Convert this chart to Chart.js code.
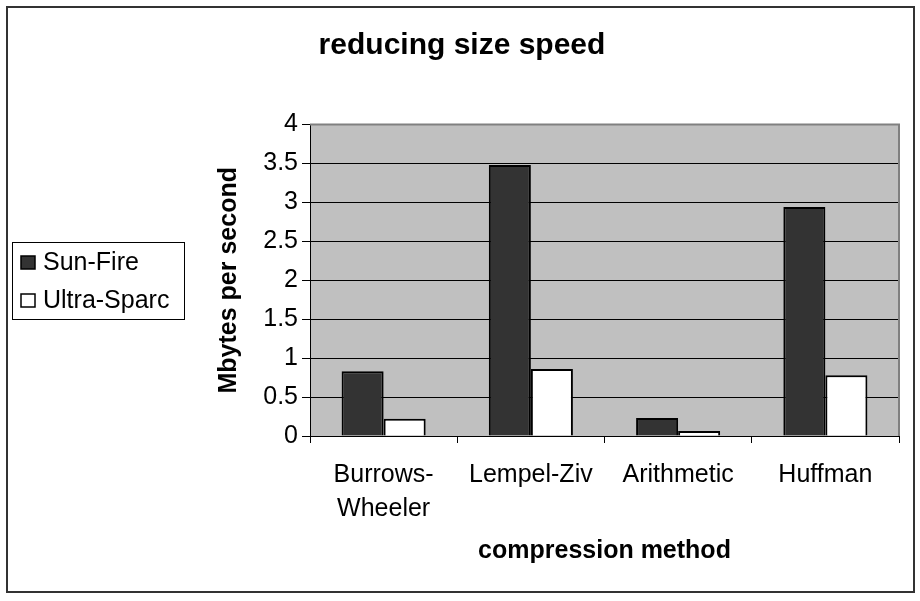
<!DOCTYPE html>
<html>
<head>
<meta charset="utf-8">
<script src="https://cdn.jsdelivr.net/npm/chart.js@4.4.0/dist/chart.umd.min.js"></script>
<style>
  html, body { margin: 0; padding: 0; background: #fff; }
  #wrap { width: 920px; height: 601px; }
</style>
</head>
<body>
<div id="wrap"><canvas id="speed" width="920" height="601"></canvas></div>

<script>
var methods = [['Burrows-', 'Wheeler'], 'Lempel-Ziv', 'Arithmetic', 'Huffman'];
var sunFire = [0.83, 3.48, 0.23, 2.94];
var ultraSparc = [0.22, 0.86, 0.065, 0.78];
var yTicks = ['0', '0.5', '1', '1.5', '2', '2.5', '3', '3.5', '4'];

var FONT = "'Liberation Sans', Arial, sans-serif";

// grey plot area, its grey top/right edge and the outer frame
var frame = {
    id: 'frame',
    beforeDraw: function(chart) {
        var ctx = chart.ctx, a = chart.chartArea;
        ctx.save();
        ctx.fillStyle = '#fff';
        ctx.fillRect(0, 0, chart.width, chart.height);
        ctx.fillStyle = '#c0c0c0';
        ctx.fillRect(a.left, a.top, a.right - a.left, a.bottom - a.top);
        ctx.restore();
    },
    afterDraw: function(chart) {
        var ctx = chart.ctx, a = chart.chartArea;
        ctx.save();
        ctx.strokeStyle = '#808080';
        ctx.lineWidth = 2;
        ctx.beginPath();
        ctx.moveTo(a.left, a.top);
        ctx.lineTo(a.right, a.top);
        ctx.lineTo(a.right, a.bottom);
        ctx.stroke();
        ctx.strokeStyle = '#333';
        ctx.lineWidth = 2;
        ctx.strokeRect(7, 7, 907, 585);
        ctx.restore();
    }
};

// boxed legend on the left side
var sideLegend = {
    id: 'sideLegend',
    afterDraw: function(chart) {
        var ctx = chart.ctx;
        var rowsY = [262, 300];
        ctx.save();
        ctx.strokeStyle = '#000';
        ctx.lineWidth = 1;
        ctx.strokeRect(12.5, 242.5, 172, 77);
        ctx.font = '25px ' + FONT;
        ctx.textBaseline = 'middle';
        chart.data.datasets.forEach(function(ds, i) {
            var y = rowsY[i];
            ctx.fillStyle = ds.backgroundColor;
            ctx.fillRect(21, y - 6, 14, 13);
            ctx.strokeStyle = '#000';
            ctx.lineWidth = 1.5;
            ctx.strokeRect(21, y - 6, 14, 13);
            ctx.fillStyle = '#000';
            ctx.fillText(ds.label, 43, y + 1);
        });
        ctx.restore();
    }
};

new Chart(document.getElementById('speed'), {
    type: 'bar',
    data: {
        labels: methods,
        datasets: [{
            label: 'Sun-Fire',
            data: sunFire,
            backgroundColor: '#333333',
            borderColor: '#000',
            borderWidth: 2
        }, {
            label: 'Ultra-Sparc',
            data: ultraSparc,
            backgroundColor: '#ffffff',
            borderColor: '#000',
            borderWidth: 2
        }]
    },
    options: {
        responsive: false,
        animation: false,
        layout: { padding: { left: 25, right: 21, top: 0, bottom: 0 } },
        plugins: {
            legend: { display: false },
            tooltip: { enabled: false },
            title: {
                display: true,
                text: 'reducing size speed',
                color: '#000',
                font: { family: FONT, size: 30, weight: 'bold', lineHeight: 1.2 },
                padding: { top: 28, bottom: 60.5 }
            }
        },
        datasets: {
            bar: { barPercentage: 1, categoryPercentage: 0.571 }
        },
        scales: {
            x: {
                grid: {
                    offset: true,
                    drawOnChartArea: false,
                    color: '#000',
                    tickLength: 7
                },
                border: { color: '#000', width: 1 },
                ticks: {
                    color: '#000',
                    padding: 15,
                    maxRotation: 0,
                    font: { family: FONT, size: 25, lineHeight: 1.35 }
                },
                title: {
                    display: true,
                    text: 'compression method',
                    color: '#000',
                    font: { family: FONT, size: 25, weight: 'bold', lineHeight: 1.2 },
                    padding: { top: 0, bottom: 35 }
                },
                afterFit: function(s) { s.height = 165; }
            },
            y: {
                min: 0,
                max: 4,
                grid: {
                    color: function(c) { return c.tick && c.tick.value === 4 ? '#808080' : '#000'; },
                    tickColor: '#000',
                    tickLength: 8
                },
                border: { color: '#000', width: 1 },
                ticks: {
                    stepSize: 0.5,
                    color: '#000',
                    padding: 4,
                    font: { family: FONT, size: 25 },
                    callback: function(v, i) { return yTicks[i]; }
                },
                title: {
                    display: true,
                    text: 'Mbytes per second',
                    color: '#000',
                    font: { family: FONT, size: 25, weight: 'bold', lineHeight: 1.2 },
                    padding: { top: 189, bottom: 0 }
                },
                afterFit: function(s) { s.width = 285; }
            }
        }
    },
    plugins: [frame, sideLegend]
});
</script>
</body>
</html>
